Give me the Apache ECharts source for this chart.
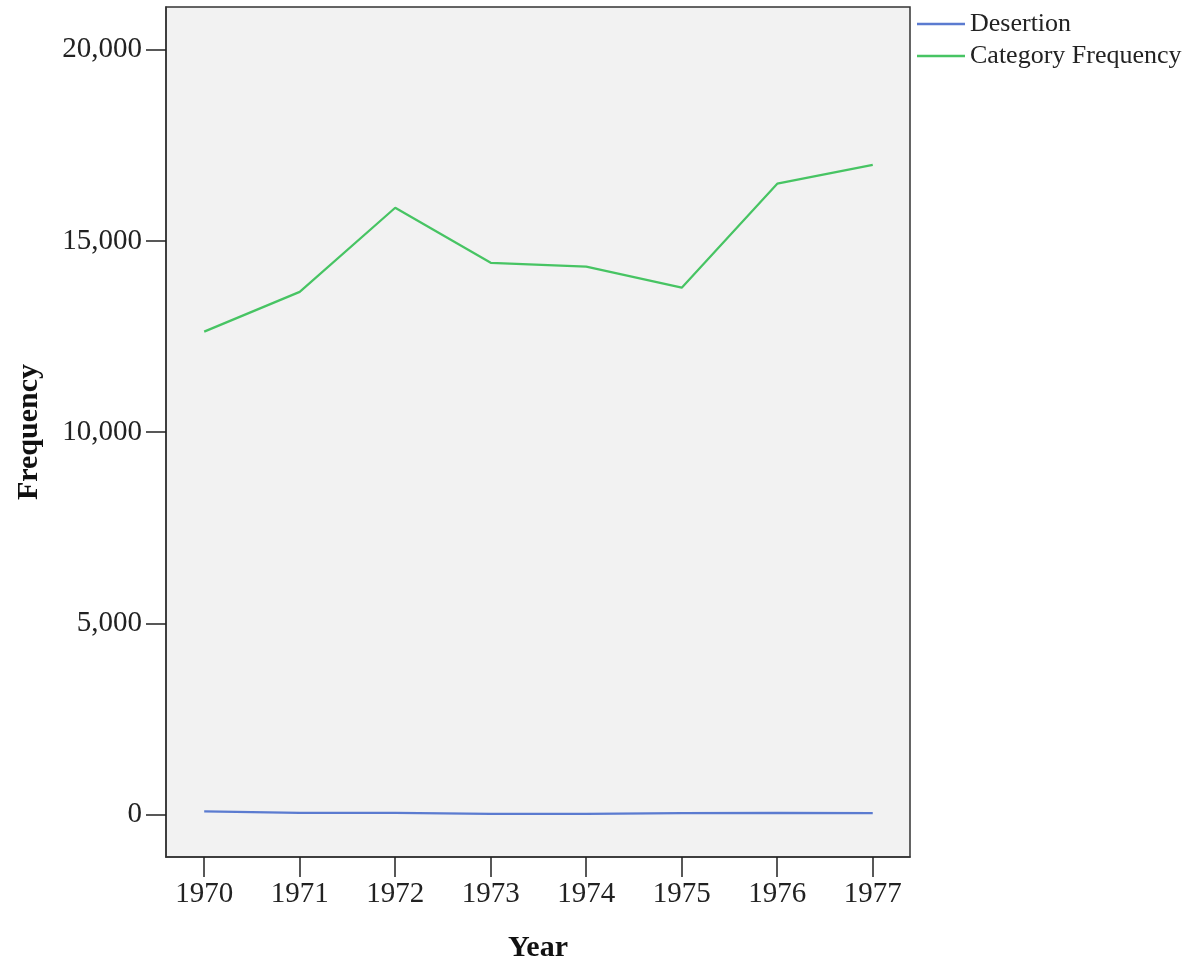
<!DOCTYPE html>
<html>
<head>
<meta charset="utf-8">
<script src="https://cdn.jsdelivr.net/npm/echarts@6/dist/echarts.min.js"></script>
<style>
  html, body { margin: 0; padding: 0; background: #ffffff; }
  #chart { width: 1196px; height: 968px; }
</style>
</head>
<body>
<div id="chart"></div>
<script>
// Yearly counts, 1970–1977
const years = [1970, 1971, 1972, 1973, 1974, 1975, 1976, 1977];
const desertion = [85, 45, 45, 20, 20, 35, 45, 35];
const categoryFrequency = [12630, 13670, 15870, 14430, 14330, 13780, 16500, 16990];
const yTicks = [0, 5000, 10000, 15000, 20000];

const serif = '"Liberation Serif", "Times New Roman", serif';
const pairs = vals => years.map((y, i) => [y, vals[i]]);

const chart = echarts.init(document.getElementById('chart'));
chart.setOption({
  animation: false,
  backgroundColor: '#ffffff',
  textStyle: { fontFamily: serif },
  grid: {
    left: 166, right: 286, top: 7, bottom: 109,
    show: true, backgroundColor: '#f2f2f2',
    borderColor: '#333333', borderWidth: 1.5
  },
  legend: {
    orient: 'vertical',
    left: 912, top: 6,
    icon: 'rect', itemWidth: 48, itemHeight: 2.5, itemGap: 6,
    textStyle: { fontFamily: serif, fontSize: 26, color: '#222222', padding: [0, 0, 0, 0] },
    data: ['Desertion', 'Category Frequency']
  },
  xAxis: {
    type: 'value',
    min: 1969.6, max: 1977.39,
    name: 'Year', nameLocation: 'middle', nameGap: 76,
    nameTextStyle: { fontFamily: serif, fontSize: 30, fontWeight: 'bold', color: '#111111' },
    axisLine: { show: true, onZero: false, lineStyle: { color: '#333333', width: 1.5 } },
    axisTick: { show: true, length: 20, customValues: years, lineStyle: { color: '#222222', width: 1.5 } },
    axisLabel: { customValues: years, margin: 23, fontFamily: serif, fontSize: 29, color: '#222222',
      formatter: v => String(v) },
    splitLine: { show: false }
  },
  yAxis: {
    type: 'value',
    min: -1110, max: 21120,
    name: 'Frequency', nameLocation: 'middle', nameGap: 122, nameRotate: 90,
    nameTextStyle: { fontFamily: serif, fontSize: 30, fontWeight: 'bold', color: '#111111' },
    axisLine: { show: true, onZero: false, lineStyle: { color: '#333333', width: 1.5 } },
    axisTick: { show: true, length: 20, customValues: yTicks, lineStyle: { color: '#222222', width: 1.5 } },
    axisLabel: { customValues: yTicks, margin: 24, fontFamily: serif, fontSize: 29, color: '#222222',
      formatter: v => v.toLocaleString('en-US') },
    splitLine: { show: false }
  },
  series: [
    {
      name: 'Desertion', type: 'line', data: pairs(desertion),
      symbol: 'none', color: '#5b7bd0',
      lineStyle: { width: 2.2, color: '#5b7bd0' }
    },
    {
      name: 'Category Frequency', type: 'line', data: pairs(categoryFrequency),
      symbol: 'none', color: '#47c463',
      lineStyle: { width: 2.2, color: '#47c463' }
    }
  ]
});
</script>
</body>
</html>
